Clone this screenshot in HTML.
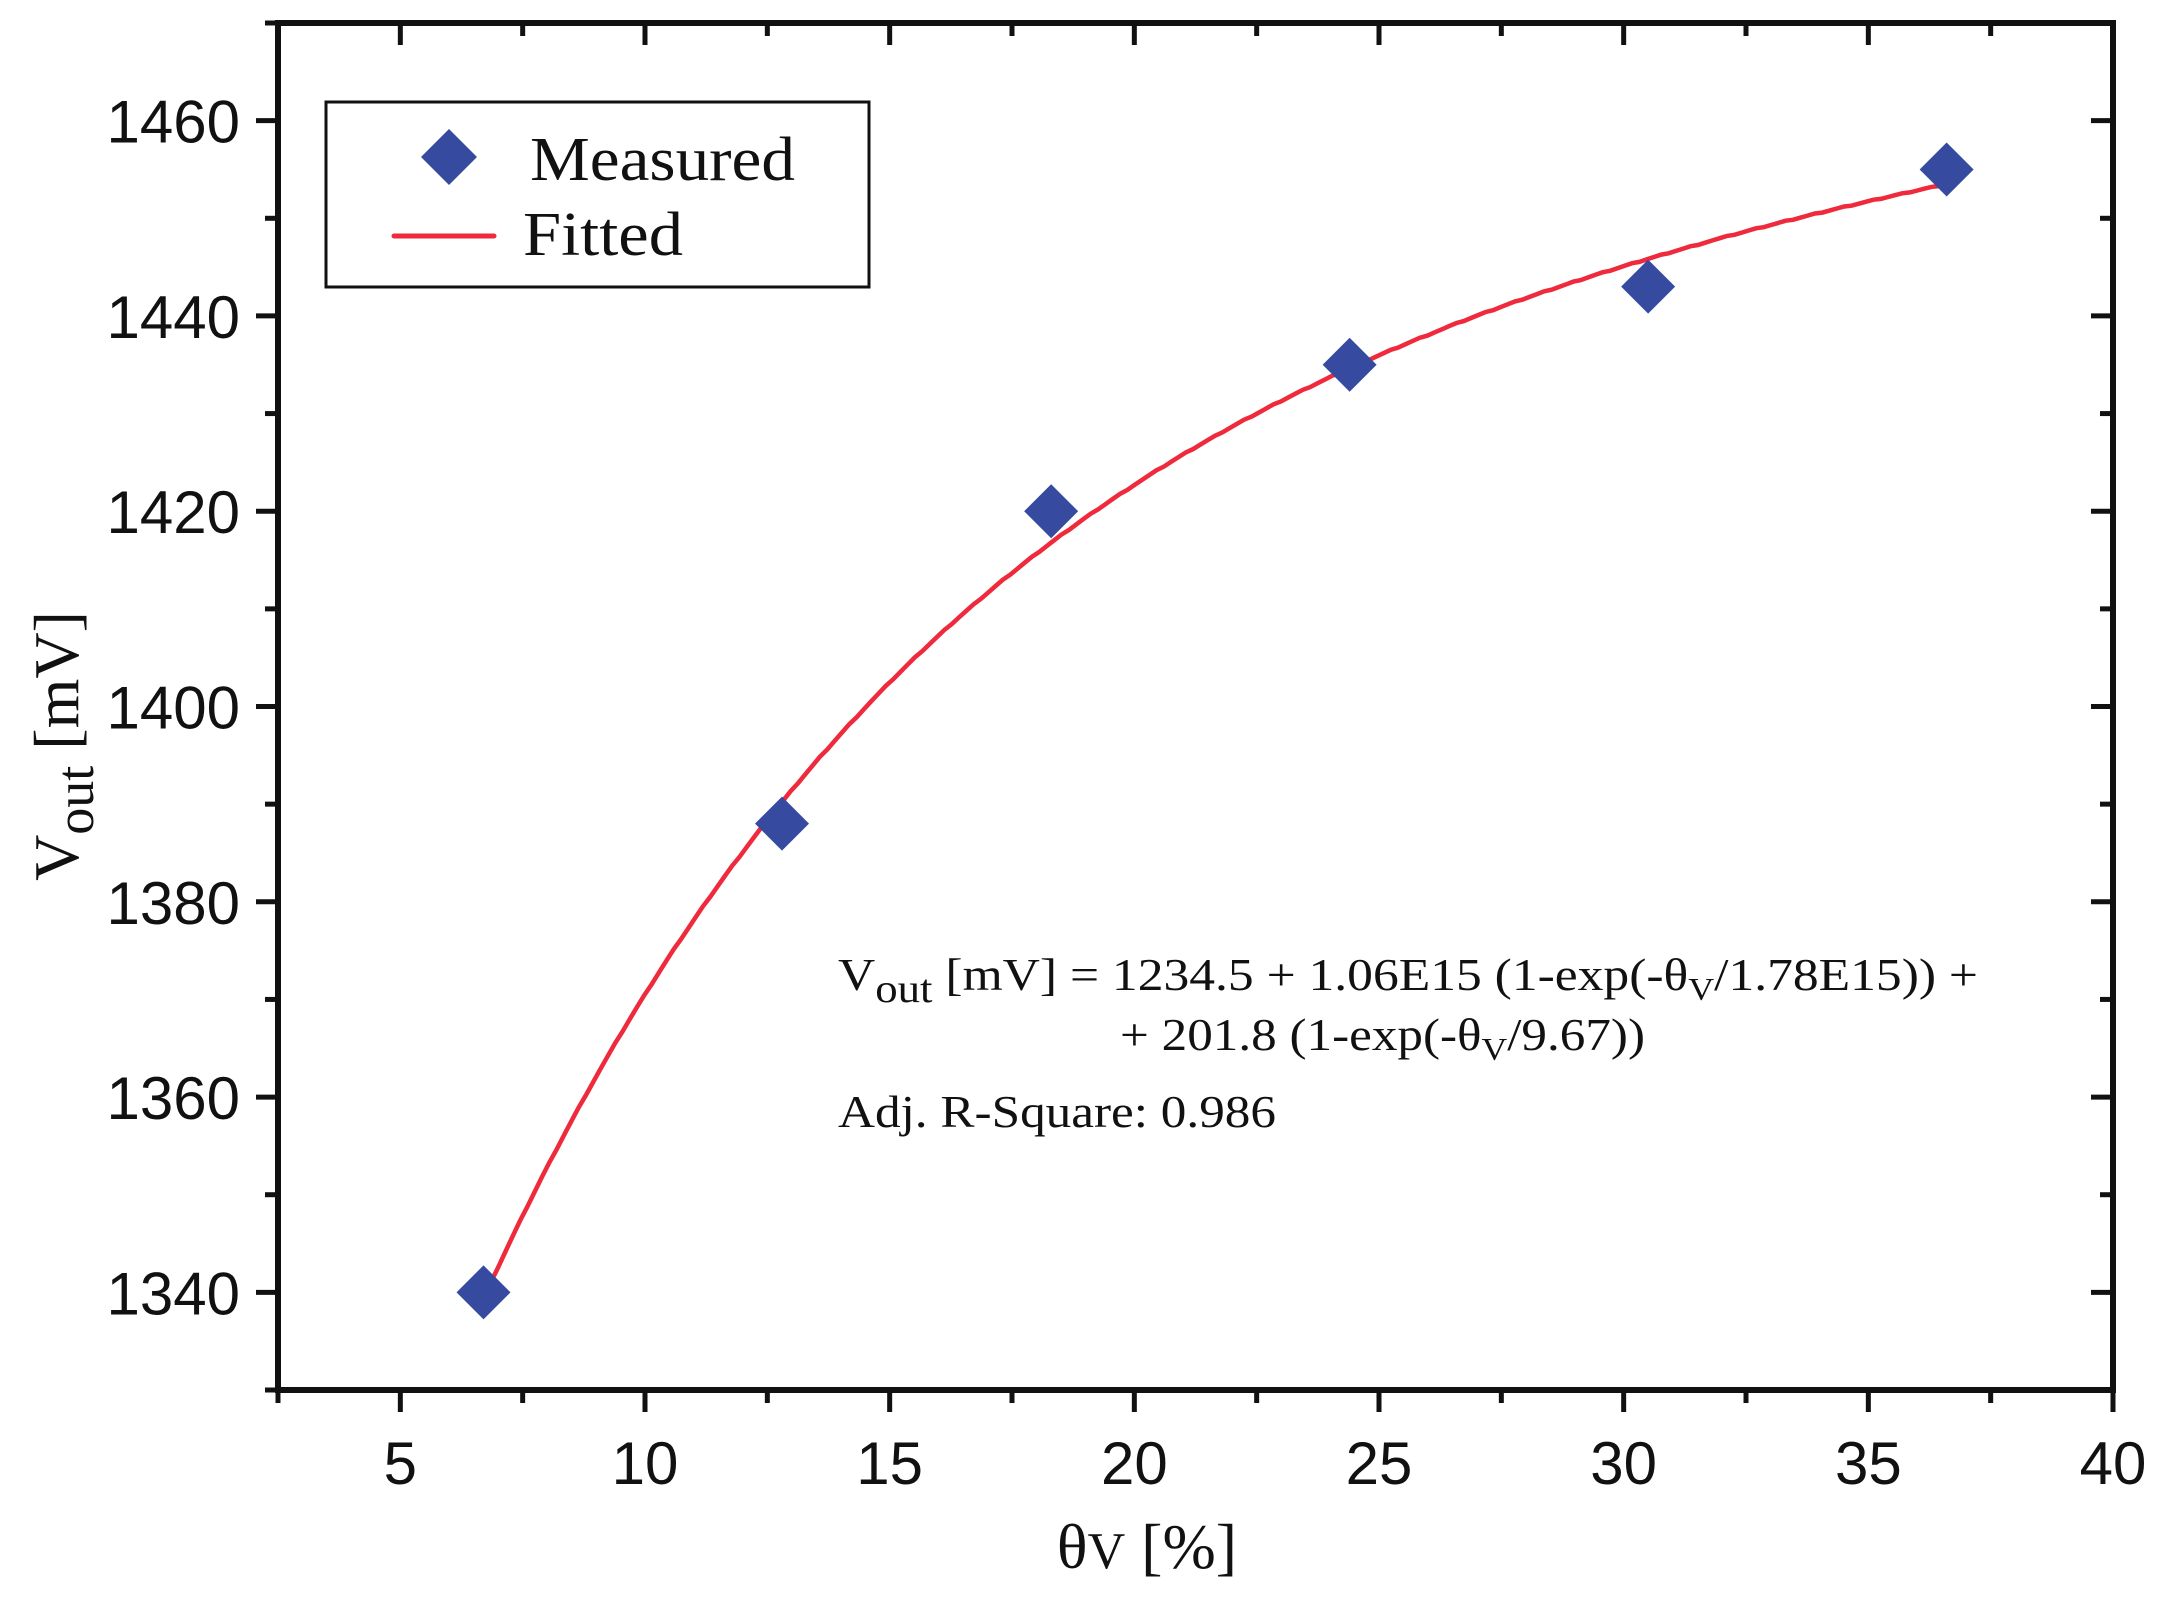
<!DOCTYPE html>
<html><head><meta charset="utf-8"><style>
html,body{margin:0;padding:0;background:#fff;}
svg{display:block;}
.tk{font-family:"Liberation Sans",Arial,sans-serif;font-size:60px;fill:#111;}
.tm{font-family:"Liberation Serif","Times New Roman",serif;fill:#111;}
</style></head><body>
<svg id="chart" width="2166" height="1599" viewBox="0 0 2166 1599" xmlns="http://www.w3.org/2000/svg">
<g id="axes"></g>
<g id="fit"></g>
<g id="pts"></g>
<g>
  <rect x="326" y="102" width="543" height="185" fill="#fff" stroke="#111" stroke-width="3"/>
  <polygon points="449,129 477,157 449,185 421,157" fill="#364ba0"/>
  <text class="tm" x="530" y="180" font-size="62" textLength="265" lengthAdjust="spacingAndGlyphs">Measured</text>
  <line x1="394" y1="236" x2="494" y2="236" stroke="#ee2a3c" stroke-width="5" stroke-linecap="round"/>
  <text class="tm" x="523" y="255" font-size="62" textLength="160" lengthAdjust="spacingAndGlyphs">Fitted</text>
</g>
<g class="tm" font-size="46">
  <text x="838" y="990" textLength="1140" lengthAdjust="spacingAndGlyphs">V<tspan font-size="40" dy="12">out</tspan><tspan dy="-12"> [mV] = 1234.5 + 1.06E15 (1-exp(-θ</tspan><tspan font-size="32" dy="10">V</tspan><tspan dy="-10">/1.78E15)) +</tspan></text>
  <text x="1120" y="1050" textLength="525" lengthAdjust="spacingAndGlyphs">+ 201.8 (1-exp(-θ<tspan font-size="32" dy="10">V</tspan><tspan dy="-10">/9.67))</tspan></text>
  <text x="838" y="1127" textLength="438" lengthAdjust="spacingAndGlyphs">Adj. R-Square: 0.986</text>
</g>
<text class="tm" font-size="64" transform="translate(78,746) rotate(-90)" text-anchor="middle">V<tspan font-size="54" dy="15">out</tspan><tspan dy="-15"> [mV]</tspan></text>
<text class="tm" font-size="64" x="1147" y="1568" text-anchor="middle">θ<tspan font-size="52">V</tspan> [%]</text>
</svg>
<script>
const xVals=[6.7,12.8,18.3,24.4,30.5,36.6];
const yVals=[1340,1388,1420,1435,1443,1455];
const xTicks=[5,10,15,20,25,30,35,40];
const yTicks=[1340,1360,1380,1400,1420,1440,1460];
const fitParams=[1234.5,1.06e15,1.78e15,201.8,9.67];
const xMin=2.5,xMax=40,yMin=1330,yMax=1470;
const L=278,R=2113,T=23,B=1390;
const NS="http://www.w3.org/2000/svg";
function sx(v){return L+(v-xMin)/(xMax-xMin)*(R-L);}
function sy(v){return B-(v-yMin)/(yMax-yMin)*(B-T);}
function mk(tag,attrs,parent){const e=document.createElementNS(NS,tag);for(const k in attrs)e.setAttribute(k,attrs[k]);parent.appendChild(e);return e;}
const axes=document.getElementById('axes');
const frame=mk('rect',{x:L,y:T,width:R-L,height:B-T,fill:'none',stroke:'#111','stroke-width':6},axes);


for(let v=xMin;v<=xMax+0.01;v+=2.5){
  const major=Math.abs(v/5-Math.round(v/5))<1e-6;
  const len=major?22:13;const x=sx(v);
  const t1=mk('line',{x1:x,y1:B,x2:x,y2:B+len,stroke:'#111','stroke-width':5},axes);
  
  
  const t2=mk('line',{x1:x,y1:T,x2:x,y2:T+len,stroke:'#111','stroke-width':5},axes);
  
  
}
xTicks.forEach(v=>{
  const t=mk('text',{x:sx(v),y:1484,'text-anchor':'middle',class:'tk'},axes);t.textContent=v;
  
  
});
for(let v=yMin;v<=yMax+0.01;v+=10){
  const major=(v%20)===0;const len=major?22:13;const y=sy(v);
  const t1=mk('line',{x1:L-len,y1:y,x2:L,y2:y,stroke:'#111','stroke-width':5},axes);
  
  
  const t2=mk('line',{x1:R-len,y1:y,x2:R,y2:y,stroke:'#111','stroke-width':5},axes);
  
  
}
yTicks.forEach(v=>{
  const t=mk('text',{x:240,y:sy(v)+22,'text-anchor':'end',class:'tk'},axes);t.textContent=v;
  
  
});
function f(x){const p=fitParams;return p[0]+p[1]*(1-Math.exp(-x/p[2]))+p[3]*(1-Math.exp(-x/p[4]));}
let d='';const x0=xVals[0],x1=xVals[xVals.length-1];
for(let i=0;i<=200;i++){const x=x0+(x1-x0)*i/200;d+=(i?'L':'M')+sx(x).toFixed(1)+','+sy(f(x)).toFixed(1);}
const fitPath=mk('path',{d:d,fill:'none',stroke:'#ee2a3c','stroke-width':4.5,'stroke-linecap':'round'},document.getElementById('fit'));


const pts=document.getElementById('pts');
xVals.forEach((xv,i)=>{
  const cx=sx(xv),cy=sy(yVals[i]);
  const p=mk('polygon',{points:`${cx},${cy-27} ${cx+27},${cy} ${cx},${cy+27} ${cx-27},${cy}`,fill:'#364ba0'},pts);
  
  
});
</script>
</body></html>
